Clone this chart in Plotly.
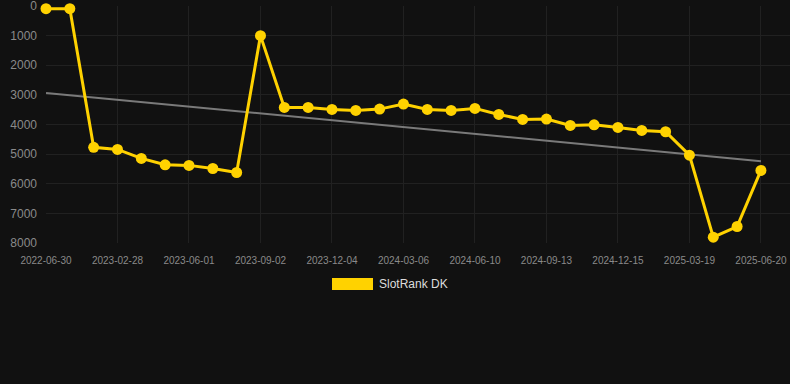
import numpy as np
import plotly.graph_objects as go

dates = [
    "2022-06-30", "2022-09-19", "2022-12-09", "2023-02-28", "2023-03-31",
    "2023-05-01", "2023-06-01", "2023-07-02", "2023-08-02", "2023-09-02",
    "2023-10-03", "2023-11-03", "2023-12-04", "2024-01-04", "2024-02-04",
    "2024-03-06", "2024-04-06", "2024-05-08", "2024-06-10", "2024-07-11",
    "2024-08-12", "2024-09-13", "2024-10-14", "2024-11-14", "2024-12-15",
    "2025-01-15", "2025-02-16", "2025-03-19", "2025-04-19", "2025-05-20",
    "2025-06-20",
]
rank = [
    90, 90, 4770, 4840, 5145, 5360, 5380, 5485, 5620, 1000,
    3425, 3425, 3493, 3525, 3480, 3311, 3493, 3525, 3457, 3660,
    3829, 3818, 4030, 4010, 4100, 4200, 4245, 5034, 7804, 7443,
    5551,
]
y_ticks = [0, 1000, 2000, 3000, 4000, 5000, 6000, 7000, 8000]
series_name = "SlotRank DK"

idx = np.arange(len(dates))
slope, intercept = np.polyfit(idx, rank, 1)
trend = slope * idx + intercept
tick_idx = list(idx[::3])
tick_text = [dates[i] for i in tick_idx]

GOLD = "#FFD200"
BG = "#111111"
GRID = "#212121"

fig = go.Figure()
fig.add_trace(go.Scatter(
    x=idx, y=trend, mode="lines",
    line=dict(color="#7a7a7a", width=2),
    hoverinfo="skip", showlegend=False,
))
fig.add_trace(go.Scatter(
    x=idx, y=rank, mode="lines+markers", name=series_name,
    line=dict(color=GOLD, width=3),
    marker=dict(color=GOLD, size=11),
    cliponaxis=False,
    showlegend=False,
))

fig.update_layout(
    width=790, height=384,
    paper_bgcolor=BG, plot_bgcolor=BG,
    margin=dict(l=46, r=0, t=6, b=141),
    font=dict(family="Liberation Sans, Arial, sans-serif", color="#8a8a8a"),
    showlegend=False,
    xaxis=dict(
        range=[0, 31.22], tickmode="array", tickvals=tick_idx, ticktext=tick_text,
        showgrid=True, gridcolor=GRID, gridwidth=1, zeroline=False,
        showline=False, ticks="", tickfont=dict(size=10, color="#8a8a8a"),
        ticklabelstandoff=10, ticklabeloverflow="allow",
    ),
    yaxis=dict(
        range=[8000, 0], tickmode="array", tickvals=y_ticks,
        showgrid=True, gridcolor=GRID, gridwidth=1, zeroline=False,
        showline=False, ticks="", tickfont=dict(size=12, color="#8a8a8a"),
        ticklabelstandoff=8, ticklabeloverflow="allow",
    ),
)

# legend drawn manually (box + label)
fig.add_shape(type="rect", xref="paper", yref="paper",
              x0=(332 - 46) / 744, x1=(373 - 46) / 744,
              y0=(384 - 141 - 290) / 237, y1=(384 - 141 - 278) / 237,
              fillcolor=GOLD, line=dict(width=0))
fig.add_annotation(xref="paper", yref="paper",
                   x=(377 - 46) / 744, y=(384 - 141 - 284) / 237,
                   xanchor="left", yanchor="middle", showarrow=False,
                   text=series_name, font=dict(size=12, color="#dddddd"))

fig.write_html(
    "out.html",
    config={"displayModeBar": False},
    post_script="document.body.style.margin='0';document.body.style.background='#111111';",
)
